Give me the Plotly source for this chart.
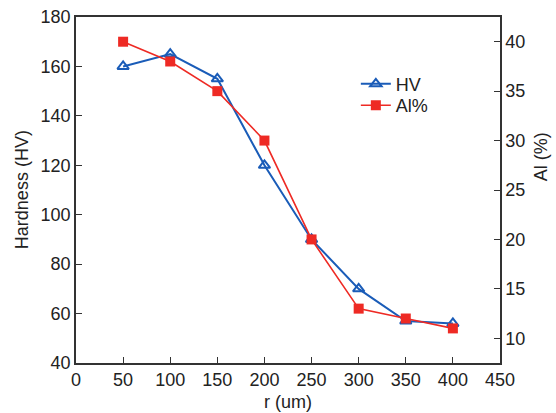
import plotly.graph_objects as go

r_um = [50, 100, 150, 200, 250, 300, 350, 400]
hardness_hv = [160, 165, 155, 120, 90, 70, 57, 56]
al_percent = [40, 38, 35, 30, 20, 13, 12, 11]

blue = "#1a5cb8"
red = "#ee2a24"
axis_color = "#333333"
font = dict(family="Liberation Sans, Arial, sans-serif", size=18, color="#222222")
legend_font = dict(family=font["family"], size=18, color="#222222")

fig = go.Figure()
fig.add_trace(go.Scatter(
    x=r_um, y=hardness_hv, name="HV", mode="lines+markers", legend="legend",
    line=dict(color=blue, width=2),
    marker=dict(symbol="triangle-up-open", size=10, color=blue, line=dict(width=2, color=blue)),
))
fig.add_trace(go.Scatter(
    x=r_um, y=al_percent, name="Al%", mode="lines+markers", yaxis="y2", legend="legend2",
    line=dict(color=red, width=1.6),
    marker=dict(symbol="square", size=10, color=red),
))

common = dict(showgrid=False, zeroline=False, showline=True, linecolor=axis_color,
              linewidth=1.5, ticks="inside", ticklen=6, tickcolor=axis_color,
              tickwidth=1.2, tickfont=font, automargin=False)

# axis titles placed as paper-anchored annotations so the plot area stays fixed
titles = [
    dict(text="r (um)", x=0.5, y=-0.113, textangle=0),
    dict(text="Hardness (HV)", x=-0.127, y=0.5, textangle=-90),
    dict(text="Al (%)", x=1.097, y=0.595, textangle=-90),
]

legend_common = dict(x=0.66, xanchor="left", yanchor="middle", bgcolor="rgba(0,0,0,0)",
                     font=legend_font, itemwidth=30)

fig.update_layout(
    width=556, height=413,
    margin=dict(l=76, r=56, t=17, b=50),
    plot_bgcolor="white", paper_bgcolor="white",
    font=font,
    xaxis=dict(range=[0, 450], tickvals=list(range(0, 451, 50)), mirror=True, **common),
    yaxis=dict(range=[40, 180], tickvals=list(range(40, 181, 20)), **common),
    yaxis2=dict(range=[7.5, 42.5], tickvals=list(range(10, 41, 5)), overlaying="y",
                side="right", **common),
    legend=dict(y=0.806, **legend_common),
    legend2=dict(y=0.744, **legend_common),
    showlegend=True,
    annotations=[dict(text=t["text"], x=t["x"], y=t["y"], xref="paper", yref="paper",
                      xanchor="center", yanchor="middle", textangle=t["textangle"],
                      showarrow=False, font=font) for t in titles],
)

fig.write_html("out.html")
